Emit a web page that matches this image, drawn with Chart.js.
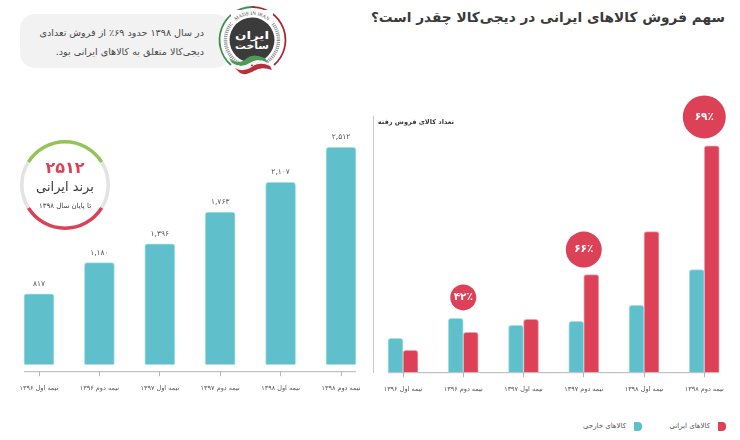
<!DOCTYPE html>
<html lang="fa">
<head>
<meta charset="utf-8">
<title>سهم فروش کالاهای ایرانی</title>
<script src="https://cdn.jsdelivr.net/npm/chart.js@4/dist/chart.umd.min.js"></script>
<style>
  html, body { margin: 0; padding: 0; background: #fff; }
  body { width: 740px; height: 440px; position: relative; overflow: hidden; font-family: "DejaVu Sans", sans-serif; }
  canvas { position: absolute; }
  .txt { position: absolute; direction: rtl; white-space: nowrap; }
  #title { right: 15px; top: 9px; font-size: 13.7px; font-weight: bold; color: #3a3a3a; }
  #callout { left: 20px; top: 14px; width: 210px; height: 54px; background: #f2f2f2; border-radius: 15px; position: absolute; }
  #callout-1 { right: 536px; top: 27px; font-size: 9.6px; color: #4a4a4a; }
  #callout-2 { right: 536px; top: 46px; font-size: 9.6px; color: #4a4a4a; }
  #badge { position: absolute; left: 217px; top: 6px; }
  #gauge-num { left: 20px; width: 90px; text-align: center; top: 158px; font-size: 16px; font-weight: bold; color: #dc4157; }
  #gauge-brand { left: 20px; width: 90px; text-align: center; top: 179px; font-size: 13px; color: #3a3a3a; }
  #gauge-until { left: 20px; width: 90px; text-align: center; top: 202px; font-size: 7px; color: #3a3a3a; }
  #chart-title { right: 286px; top: 118px; font-size: 6.6px; font-weight: bold; color: #3a3a3a; }
  #divider { position: absolute; left: 373px; top: 116px; width: 1px; height: 257px; background: #c9c9c9; }
  #legend { position: absolute; right: 14px; top: 422px; display: flex; direction: rtl; font-size: 7px; color: #555; line-height: 9px; }
  #legend .item { display: flex; width: 84px; }
  #legend .swatch { width: 8px; height: 9px; border-radius: 0 4px 4px 0; margin-left: 8px; }
</style>
</head>
<body>
<div id="title" class="txt">سهم فروش کالاهای ایرانی در دیجی‌کالا چقدر است؟</div>
<div id="callout"></div>
<div id="callout-1" class="txt">در سال ۱۳۹۸ حدود ۶۹٪ از فروش تعدادی</div>
<div id="callout-2" class="txt">دیجی‌کالا متعلق به کالاهای ایرانی بود.</div>

<svg id="badge" width="72" height="72" viewBox="0 0 72 72">
  <defs><path id="badge-arc" d="M 15.8 17.9 A 25 25 0 0 1 54.2 17.9"/></defs>
  <circle cx="35" cy="34" r="33" fill="#fff"/>
  <path d="M 14 59 A 33 33 0 0 1 35 1" fill="none" stroke="#3f8f4f" stroke-width="1.8"/>
  <path d="M 35 1 A 33 33 0 0 1 57 59" fill="none" stroke="#a52a35" stroke-width="1.8"/>
  <circle cx="35" cy="34" r="26.5" fill="none" stroke="#8f8f8f" stroke-width="3.5" stroke-dasharray="1 1"/>
  <rect x="14" y="4" width="42" height="14" fill="#fff"/>
  <text font-family="Liberation Serif" font-size="5" fill="#444"><textPath href="#badge-arc" startOffset="50%" text-anchor="middle">MADE IN IRAN</textPath></text>
  <circle cx="35" cy="34" r="22.5" fill="#3b3b3b"/>
  <text x="35" y="33" text-anchor="middle" direction="rtl" font-size="10" font-weight="bold" fill="#fff" textLength="34" lengthAdjust="spacingAndGlyphs">ایران</text>
  <text x="35" y="43" text-anchor="middle" direction="rtl" font-size="10" font-weight="bold" fill="#fff" textLength="34" lengthAdjust="spacingAndGlyphs">ساخت</text>
  <path d="M 12 52 Q 22 60 30 52 Q 36 47 48 52 L 51 57 Q 40 51 33 57 Q 24 63 15 57 Z" fill="#4b9a55"/>
  <path d="M 15 57 Q 24 63 33 57 Q 40 51 51 57 L 53 60 Q 42 55 35 61 Q 26 67 18 62 Z" fill="#f4f4f4"/>
  <path d="M 18 62 Q 26 67 35 61 Q 42 55 53 60 L 55 64 Q 44 60 37 65 Q 28 70 23 67 Z" fill="#b5303a"/>
  <circle cx="35" cy="59.5" r="1" fill="#b5303a"/>
</svg>

<canvas id="barsLeft" width="372" height="315" style="left:0;top:85px"></canvas>
<canvas id="gauge" width="96" height="96" style="left:17px;top:137px"></canvas>
<div id="gauge-num" class="txt">۲۵۱۲</div>
<div id="gauge-brand" class="txt">برند ایرانی</div>
<div id="gauge-until" class="txt">تا پایان سال ۱۳۹۸</div>

<div id="divider"></div>
<canvas id="barsRight" width="368" height="316" style="left:372px;top:85px"></canvas>
<div id="chart-title" class="txt">تعداد کالای فروش رفته</div>
<div id="legend"></div>

<script>
// ── Data ─────────────────────────────────────────────────────────────────────

const periods = ['نیمه اول ۱۳۹۶', 'نیمه دوم ۱۳۹۶', 'نیمه اول ۱۳۹۷', 'نیمه دوم ۱۳۹۷', 'نیمه اول ۱۳۹۸', 'نیمه دوم ۱۳۹۸'];

const brandCounts = [817, 1180, 1396, 1763, 2107, 2512];
const brandLabels = ['۸۱۷', '۱,۱۸۰', '۱,۳۹۶', '۱,۷۶۳', '۲,۱۰۷', '۲,۵۱۲'];

// no value axis in the picture, so these are relative heights
const foreignGoods = [34, 54, 47, 51, 67, 103];
const iranianGoods = [22, 40, 53, 98, 141, 227];

const shareLabels = [null, '۴۲٪', null, '۶۶٪', null, '۶۹٪'];
const shareHeights = [null, 75, null, 123, null, 256];
const shareRadius = [0, 13, 0, 18, 0, 21.5];

const gaugeValues = [116, 64, 116, 64];

const TEAL = '#5fbfca';
const TEAL_EDGE = '#a5e0e6';
const RED = '#dc4157';
const RED_EDGE = '#f0a0ac';
const AXIS = '#b5b5b5';
const TICK_TEXT = '#555';
const FONT = '"DejaVu Sans", sans-serif';

// ── Plugins ──────────────────────────────────────────────────────────────────

// Achsenlinie nur von erstem bis letztem Balken, nicht ueber die ganze Flaeche
function axisLine(halfWidth) {
  return {
    id: 'axisLine',
    afterDatasetsDraw(chart) {
      const { x, y } = chart.scales;
      const c = chart.ctx;
      c.save();
      c.strokeStyle = AXIS;
      c.lineWidth = 1;
      c.beginPath();
      c.moveTo(x.getPixelForValue(0) - halfWidth, y.bottom + 0.5);
      c.lineTo(x.getPixelForValue(5) + halfWidth, y.bottom + 0.5);
      c.stroke();
      c.restore();
    }
  };
}

const brandValueLabels = {
  id: 'brandValueLabels',
  afterDatasetsDraw(chart) {
    const c = chart.ctx;
    c.save();
    c.font = '7.5px ' + FONT;
    c.fillStyle = TICK_TEXT;
    c.textAlign = 'center';
    c.textBaseline = 'bottom';
    chart.getDatasetMeta(0).data.forEach((bar, i) => c.fillText(brandLabels[i], bar.x, bar.y - 6));
    c.restore();
  }
};

const shareText = {
  id: 'shareText',
  afterDatasetsDraw(chart) {
    const c = chart.ctx;
    const meta = chart.getDatasetMeta(2);
    c.save();
    c.font = 'bold 10.5px ' + FONT;
    c.fillStyle = '#fff';
    c.textAlign = 'center';
    c.textBaseline = 'middle';
    meta.data.forEach((pt, i) => {
      if (shareLabels[i]) c.fillText(shareLabels[i], pt.x, pt.y);
    });
    c.restore();
  }
};

function xAxis() {
  return {
    offset: true,
    border: { display: false },
    grid: { drawOnChartArea: false, drawTicks: true, tickLength: 5, color: AXIS, offset: false },
    ticks: { color: TICK_TEXT, font: { family: FONT, size: 6.5 }, maxRotation: 0, autoSkip: false, padding: 8 }
  };
}

// ── Charts ───────────────────────────────────────────────────────────────────

new Chart(document.getElementById('barsLeft'), {
  type: 'bar',
  data: {
    labels: periods,
    datasets: [{
      data: brandCounts,
      backgroundColor: TEAL,
      borderColor: TEAL_EDGE,
      borderWidth: 1,
      borderRadius: { topLeft: 3, topRight: 3 },
      borderSkipped: 'bottom',
      barThickness: 30
    }]
  },
  options: {
    responsive: false,
    animation: false,
    layout: { autoPadding: false, padding: { left: 8.8, right: 0.8, top: 0, bottom: 0 } },
    plugins: { legend: { display: false }, tooltip: { enabled: false } },
    scales: {
      x: xAxis(),
      y: { display: false, min: -76, max: 3231 }
    }
  },
  plugins: [axisLine(15), brandValueLabels]
});

new Chart(document.getElementById('gauge'), {
  type: 'doughnut',
  data: {
    datasets: [{
      data: gaugeValues,
      backgroundColor: ['#94c456', '#e3e3e3', '#dc4157', '#e3e3e3'],
      borderWidth: 0
    }]
  },
  options: {
    responsive: false,
    animation: false,
    rotation: -58,
    cutout: '92%',
    layout: { padding: 3 },
    plugins: { legend: { display: false }, tooltip: { enabled: false } }
  }
});

const rightChart = new Chart(document.getElementById('barsRight'), {
  type: 'bar',
  data: {
    labels: periods,
    datasets: [
      {
        label: 'کالاهای خارجی',
        data: foreignGoods,
        backgroundColor: TEAL,
        borderColor: TEAL_EDGE,
        borderWidth: 1,
        borderRadius: { topLeft: 3, topRight: 3 },
        borderSkipped: 'bottom',
        barThickness: 15,
        order: 2
      },
      {
        label: 'کالاهای ایرانی',
        data: iranianGoods,
        backgroundColor: RED,
        borderColor: RED_EDGE,
        borderWidth: 1,
        borderRadius: { topLeft: 3, topRight: 3 },
        borderSkipped: 'bottom',
        barThickness: 15,
        order: 2
      },
      {
        type: 'line',
        label: 'سهم',
        data: shareHeights,
        showLine: false,
        pointRadius: shareRadius,
        pointBackgroundColor: RED,
        pointBorderWidth: 0,
        order: 1
      }
    ]
  },
  options: {
    responsive: false,
    animation: false,
    layout: { autoPadding: false, padding: { left: 0.9, right: 5.6, top: 0, bottom: 0 } },
    plugins: { legend: { display: false }, tooltip: { enabled: false } },
    scales: {
      x: xAxis(),
      y: { display: false, min: 0, max: 288 }
    }
  },
  plugins: [axisLine(15), shareText]
});

// Legende aus den Datasets: rechts die iranischen Waren, links die auslaendischen
document.getElementById('legend').innerHTML = [1, 0].map(i => {
  const ds = rightChart.data.datasets[i];
  return `<div class="item"><span class="swatch" style="background:${ds.backgroundColor}"></span><span>${ds.label}</span></div>`;
}).join('');
</script>
</body>
</html>
